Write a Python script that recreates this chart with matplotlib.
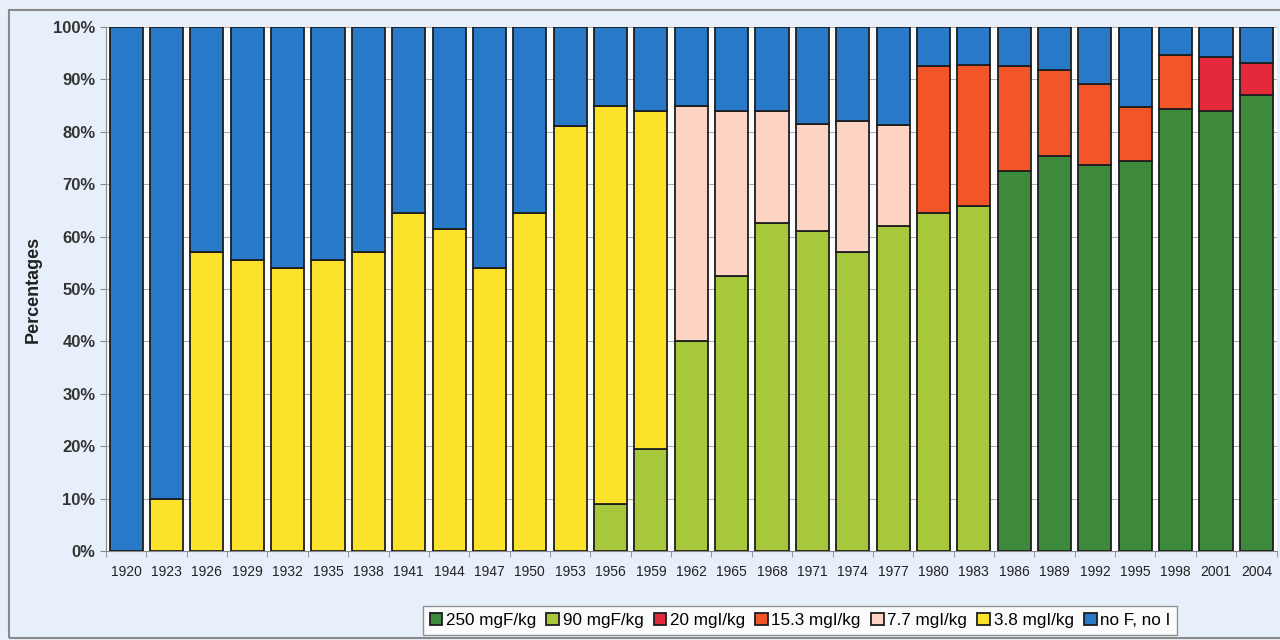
###############################################################################
### Stacked percentage bars: salt fortification types by year
###############################################################################

import matplotlib.pyplot as plt
import matplotlib.patches as patches
import numpy as np

#------------------------------------------------------------------------------
### Data (percentages)

years = ['1920', '1923', '1926', '1929', '1932', '1935', '1938', '1941', '1944',
         '1947', '1950', '1953', '1956', '1959', '1962', '1965', '1968', '1971',
         '1974', '1977', '1980', '1983', '1986', '1989', '1992', '1995', '1998',
         '2001', '2004']

f250 = [0, 0, 0, 0, 0, 0, 0, 0, 0, 0, 0, 0, 0, 0, 0, 0, 0, 0, 0, 0, 0, 0,
        72.5, 75.3, 73.7, 74.4, 84.3, 84.0, 87.0]
f90 = [0, 0, 0, 0, 0, 0, 0, 0, 0, 0, 0, 0, 9.0, 19.5, 40.0, 52.5, 62.5, 61.0,
       57.0, 62.0, 64.5, 65.8, 0, 0, 0, 0, 0, 0, 0]
i20 = [0, 0, 0, 0, 0, 0, 0, 0, 0, 0, 0, 0, 0, 0, 0, 0, 0, 0, 0, 0, 0, 0,
       0, 0, 0, 0, 0, 10.2, 6.2]
i153 = [0, 0, 0, 0, 0, 0, 0, 0, 0, 0, 0, 0, 0, 0, 0, 0, 0, 0, 0, 0, 28.0, 27.0,
        20.0, 16.4, 15.4, 10.4, 10.3, 0, 0]
i77 = [0, 0, 0, 0, 0, 0, 0, 0, 0, 0, 0, 0, 0, 0, 45.0, 31.5, 21.5, 20.5,
       25.0, 19.2, 0, 0, 0, 0, 0, 0, 0, 0, 0]
i38 = [0, 10.0, 57.0, 55.5, 54.0, 55.5, 57.0, 64.5, 61.5, 54.0, 64.5, 81.0,
       76.0, 64.5, 0, 0, 0, 0, 0, 0, 0, 0, 0, 0, 0, 0, 0, 0, 0]
none = [100, 90.0, 43.0, 44.5, 46.0, 44.5, 43.0, 35.5, 38.5, 46.0, 35.5, 19.0,
        15.0, 16.0, 15.0, 16.0, 16.0, 18.5, 18.0, 18.8, 7.5, 7.2, 7.5, 8.3,
        10.9, 15.2, 5.4, 5.8, 6.8]

series = [
    ('250 mgF/kg', f250, '#3e8a3c'),
    ('90 mgF/kg', f90, '#a6c83a'),
    ('20 mgI/kg', i20, '#e42a3a'),
    ('15.3 mgI/kg', i153, '#f25527'),
    ('7.7 mgI/kg', i77, '#fdd3c3'),
    ('3.8 mgI/kg', i38, '#fde22c'),
    ('no F, no I', none, '#2979c9'),
]

#------------------------------------------------------------------------------
### Figure

plt.rcParams['font.family'] = ['Liberation Sans', 'DejaVu Sans']

BG = '#e7f0fa'
fig = plt.figure(figsize=(12.8, 6.4), dpi=100, facecolor=BG)
ax = fig.add_axes([0.0828, 0.139, 0.9145, 0.819])
ax.set_facecolor('#fbfcfe')

# Outer frame around the whole chart
fig.patches.append(patches.Rectangle((0.007, 0.003), 1.2, 0.981, transform=fig.transFigure,
                                     fill=False, edgecolor='#8a8a8a', linewidth=1.5))

x = np.arange(len(years))
bottom = np.zeros(len(years))
for label, vals, col in series:
    ax.bar(x, vals, width=0.82, bottom=bottom, color=col, edgecolor='#1e1e1e',
           linewidth=1.3, label=label, zorder=3)
    bottom += np.array(vals)

# Axes styling
ax.set_xlim(-0.5, len(years) - 0.5)
ax.set_ylim(0, 100)
ax.set_yticks(np.arange(0, 101, 10))
ax.set_yticklabels(['%d%%' % v for v in range(0, 101, 10)], fontsize=12,
                   fontweight='bold', color='#333333')
ax.set_xticks(x)
ax.set_xticklabels(years, fontsize=10, color='#222222')
ax.set_xticks(np.arange(-0.5, len(years), 1), minor=True)
ax.tick_params(axis='x', which='major', length=0, pad=10)
ax.tick_params(axis='x', which='minor', length=4, color='#888888')
ax.tick_params(axis='y', length=4, color='#888888')
ax.yaxis.grid(True, color='#aaaaaa', linewidth=0.7, zorder=0)
ax.set_axisbelow(True)
for side in ['top', 'right']:
    ax.spines[side].set_visible(False)
ax.spines['left'].set_color('#888888')
ax.spines['bottom'].set_color('#888888')

ax.set_ylabel('Percentages', fontsize=13, fontweight='bold', color='#222222', labelpad=8)

# Legend
leg = fig.legend(loc='center', bbox_to_anchor=(0.625, 0.031), ncol=7, fontsize=12.3,
                 frameon=True, fancybox=False, handlelength=0.75, handleheight=0.75,
                 handletextpad=0.2, columnspacing=0.6, borderpad=0.4,
                 edgecolor='#777777', facecolor='white')
leg.get_frame().set_linewidth(1.0)

plt.savefig('out.png', dpi=100, facecolor=BG)
plt.close()
